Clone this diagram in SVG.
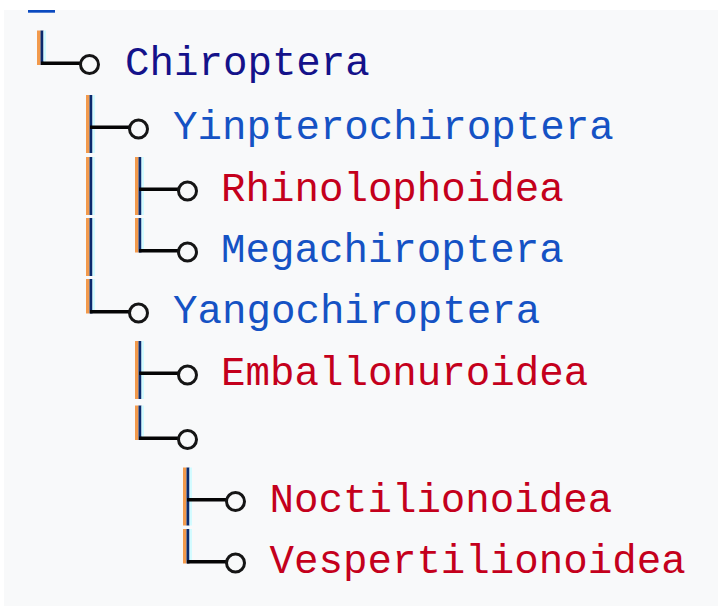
<svg xmlns="http://www.w3.org/2000/svg" width="718" height="606" viewBox="0 0 718 606">
<style>
.t{font-family:"Liberation Mono","Courier New",monospace;font-size:40.8px}
.nv{fill:#14128a}
.bl{fill:#1552c4}
.rd{fill:#c4001c}
.o{fill:none;stroke:#151515;stroke-width:3}
</style>
<defs>
<g id="bar">
<rect x="0" y="0" width="3.5" height="58" fill="#f29a4c"/>
<rect x="3.5" y="0" width="3" height="58" fill="#0a2a6e"/>
<rect x="6.5" y="0" width="2.5" height="58" fill="#d2fbff"/>
</g>
<g id="tee">
<use href="#bar"/>
<rect x="4" y="30.5" width="39" height="3.5" fill="#050505"/>
</g>
<g id="elbow">
<rect x="0" y="0" width="3.5" height="34.5" fill="#f29a4c"/>
<rect x="3.5" y="0" width="3" height="34.5" fill="#0a2a6e"/>
<rect x="6.5" y="0" width="2.5" height="31" fill="#d2fbff"/>
<rect x="4" y="31" width="39" height="3.5" fill="#050505"/>
</g>
</defs>
<rect x="0" y="0" width="718" height="606" fill="#ffffff"/>
<rect x="4" y="10" width="714" height="596" fill="#f8f9fa"/>
<rect x="28" y="10" width="27" height="2.7" fill="#0a4ac0"/>
<g id="connectors">
<use href="#elbow" x="37" y="30.5"/>
<use href="#tee" x="86" y="95"/>
<use href="#bar" x="86" y="157"/>
<use href="#tee" x="135" y="157"/>
<use href="#bar" x="86" y="218"/>
<use href="#elbow" x="135" y="218"/>
<use href="#elbow" x="86" y="279"/>
<use href="#tee" x="135" y="341"/>
<use href="#elbow" x="135" y="405.5"/>
<use href="#tee" x="183" y="467.5"/>
<use href="#elbow" x="183" y="529"/>
</g>
<g id="chiroptera"><circle class="o" cx="89.5" cy="64.5" r="9"/><text class="t nv" x="125" y="74.5">Chiroptera</text></g>
<g id="yinpterochiroptera"><circle class="o" cx="138.5" cy="129" r="9"/><text class="t bl" x="173" y="139">Yinpterochiroptera</text></g>
<g id="rhinolophoidea"><circle class="o" cx="187.5" cy="191" r="9"/><text class="t rd" x="221" y="201">Rhinolophoidea</text></g>
<g id="megachiroptera"><circle class="o" cx="187.5" cy="252" r="9"/><text class="t bl" x="221" y="262">Megachiroptera</text></g>
<g id="yangochiroptera"><circle class="o" cx="138.5" cy="313" r="9"/><text class="t bl" x="173" y="323">Yangochiroptera</text></g>
<g id="emballonuroidea"><circle class="o" cx="187.5" cy="375" r="9"/><text class="t rd" x="221" y="385">Emballonuroidea</text></g>
<g id="unnamed"><circle class="o" cx="187.5" cy="439.5" r="9"/></g>
<g id="noctilionoidea"><circle class="o" cx="235.5" cy="501.5" r="9"/><text class="t rd" x="269.5" y="511.5">Noctilionoidea</text></g>
<g id="vespertilionoidea"><circle class="o" cx="235.5" cy="563" r="9"/><text class="t rd" x="269.5" y="573">Vespertilionoidea</text></g>
</svg>
